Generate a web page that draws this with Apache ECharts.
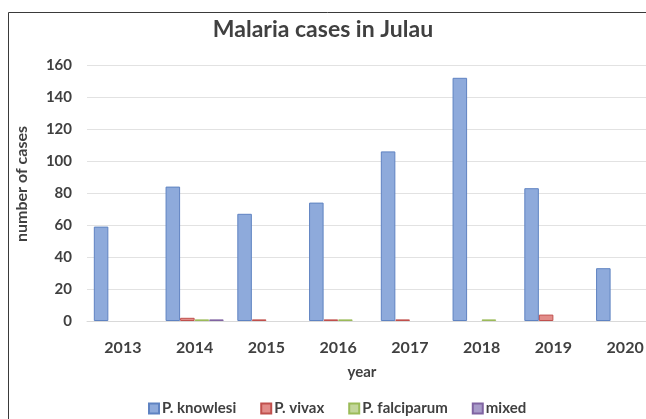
<!DOCTYPE html>
<html>
<head>
<meta charset="utf-8">
<script src="https://cdn.jsdelivr.net/npm/echarts@6/dist/echarts.min.js"></script>
<style>
  html, body { margin: 0; padding: 0; background: #fff; }
  #chart { width: 646px; height: 419px; }
</style>
</head>
<body>
<div id="chart"></div>
<script>
// Reported malaria cases in Julau by parasite species
const years = ['2013', '2014', '2015', '2016', '2017', '2018', '2019', '2020'];
const knowlesi = [59, 84, 67, 74, 106, 152, 83, 33];
const vivax = [0, 2, 1, 1, 1, 0, 4, 0];
const falciparum = [0, 1, 0, 1, 0, 1, 0, 0];
const mixed = [0, 1, 0, 0, 0, 0, 0, 0];
const yTicks = [0, 20, 40, 60, 80, 100, 120, 140, 160];

const FONT = 'Lato, "Open Sans", sans-serif';
const TEXT = '#404040';

// zero counts are left empty so no sliver is drawn on the axis
const noZero = arr => arr.map(v => (v === 0 ? null : v));

const seriesDefs = [
  { name: 'P. knowlesi', data: knowlesi, fill: '#8eaadb', edge: '#5f83c2' },
  { name: 'P. vivax', data: vivax, fill: '#e28c89', edge: '#c0504d' },
  { name: 'P. falciparum', data: falciparum, fill: '#c3d69b', edge: '#9bbb59' },
  { name: 'mixed', data: mixed, fill: '#a89bc9', edge: '#8064a2' }
];

const chart = echarts.init(document.getElementById('chart'), null, { renderer: 'canvas' });

chart.setOption({
  backgroundColor: '#ffffff',
  animation: false,
  textStyle: { fontFamily: FONT },
  title: {
    text: 'Malaria cases in Julau',
    left: 'center',
    top: 13,
    textStyle: { fontFamily: FONT, fontSize: 23, fontWeight: 'bold', color: TEXT }
  },
  graphic: [
    {
      // outer frame of the chart area
      type: 'rect',
      shape: { x: 8.5, y: 12.5, width: 700, height: 500 },
      style: { fill: 'none', stroke: '#3a3a3a', lineWidth: 1 },
      silent: true,
      z: 100
    },
    {
      // vertical axis title
      type: 'text',
      x: 22,
      y: 184,
      rotation: Math.PI / 2,
      style: {
        text: 'number of cases',
        font: 'bold 16px ' + FONT,
        fill: TEXT,
        align: 'center',
        verticalAlign: 'middle'
      },
      silent: true
    }
  ],
  legend: {
    top: 396,
    left: 143,
    itemWidth: 10,
    itemHeight: 10,
    itemGap: 24,
    icon: 'rect',
    textStyle: { fontFamily: FONT, fontSize: 15, fontWeight: 'bold', color: TEXT, padding: [0, 0, 0, -2] },
    data: seriesDefs.map(s => s.name)
  },
  grid: { left: 87, width: 574, top: 65, bottom: 98, outerBoundsMode: 'none', containLabel: false },
  xAxis: {
    type: 'category',
    data: years,
    name: 'year',
    nameLocation: 'middle',
    nameGap: 44,
    nameTextStyle: { fontFamily: FONT, fontSize: 15, fontWeight: 'bold', color: TEXT, padding: [0, 24, 0, 0] },
    axisLine: { show: true, lineStyle: { color: '#d9d9d9', width: 1 } },
    axisTick: { show: false },
    axisLabel: { fontFamily: FONT, fontSize: 16, fontWeight: 'bold', color: TEXT, margin: 19 }
  },
  yAxis: {
    type: 'value',
    min: yTicks[0],
    max: yTicks[yTicks.length - 1],
    interval: yTicks[1] - yTicks[0],
    axisLine: { show: false },
    axisTick: { show: false },
    axisLabel: { fontFamily: FONT, fontSize: 15, fontWeight: 'bold', color: TEXT, margin: 15 },
    splitLine: { lineStyle: { color: '#e2e2e2', width: 1 } }
  },
  series: seriesDefs.map(s => ({
    name: s.name,
    type: 'bar',
    data: noZero(s.data),
    barGap: '0%',
    barCategoryGap: '19%',
    itemStyle: { color: s.fill, borderColor: s.edge, borderWidth: 1 }
  }))
});
</script>
</body>
</html>
